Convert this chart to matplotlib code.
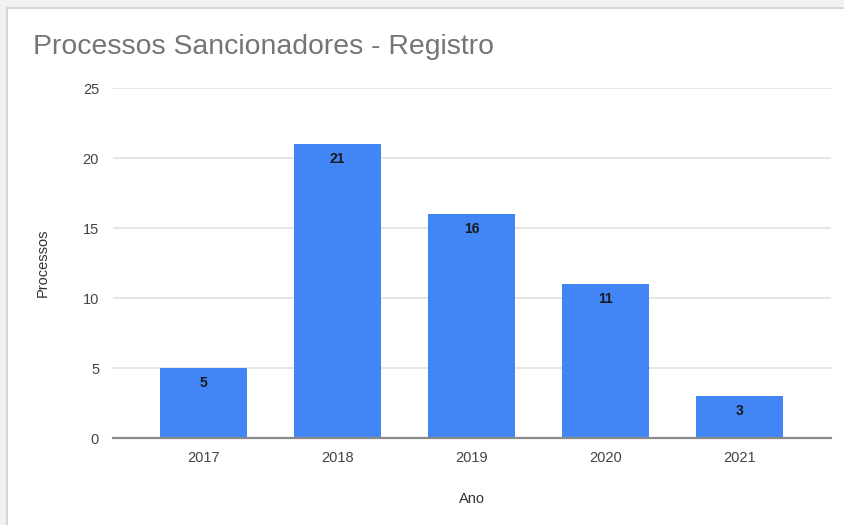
import matplotlib.pyplot as plt
from matplotlib.patches import Rectangle

# data
anos = ['2017', '2018', '2019', '2020', '2021']
processos = [5, 21, 16, 11, 3]
yticks = [0, 5, 10, 15, 20, 25]

plt.rcParams['font.family'] = ['Liberation Sans', 'DejaVu Sans']

fig = plt.figure(figsize=(8.45, 5.25), dpi=100)
fig.patch.set_facecolor('#f1f1f1')

# white card with a light border (top-left shadow of the screenshot)
card = Rectangle((7 / 845, -0.1), 1.1, 1.1 - 8 / 525, transform=fig.transFigure,
                 facecolor='white', edgecolor='#cfcfcf', linewidth=1.2, zorder=-1)
fig.patches.append(card)

ax = fig.add_axes([113 / 845, 1 - 438 / 525, 718 / 845, 350 / 525])
ax.set_facecolor('none')

x = range(len(anos))
bars = ax.bar(x, processos, width=0.65, color='#4285f4', zorder=3)

for xi, v in zip(x, processos):
    ax.text(xi, v - 0.6, str(v), ha='center', va='top', fontsize=10,
            fontweight='bold', color='#1a1a1a', zorder=4)

ax.set_xlim(-0.675, 4.683)
ax.set_ylim(0, 25)
ax.set_xticks(list(x))
ax.set_xticklabels(anos)
ax.set_yticks(yticks)
ax.tick_params(axis='both', length=0, labelsize=10.5, colors='#444444')
ax.tick_params(axis='x', pad=9)
ax.tick_params(axis='y', pad=10)

ax.grid(axis='y', color='#e2e2e2', linewidth=1.2, zorder=0)
for s in ['top', 'right', 'left']:
    ax.spines[s].set_visible(False)
ax.spines['bottom'].set_color('#8a8a8a')
ax.spines['bottom'].set_linewidth(1.6)
ax.spines['bottom'].set_zorder(4)

ax.set_xlabel('Ano', fontsize=10.5, color='#333333', labelpad=20)
ax.set_ylabel('Processos', fontsize=10.5, color='#333333', labelpad=24)

fig.text(33 / 845, 1 - 47 / 525, 'Processos Sancionadores - Registro',
         fontsize=20.4, color='#757575', ha='left', va='center')

fig.savefig('out.png', dpi=100)
